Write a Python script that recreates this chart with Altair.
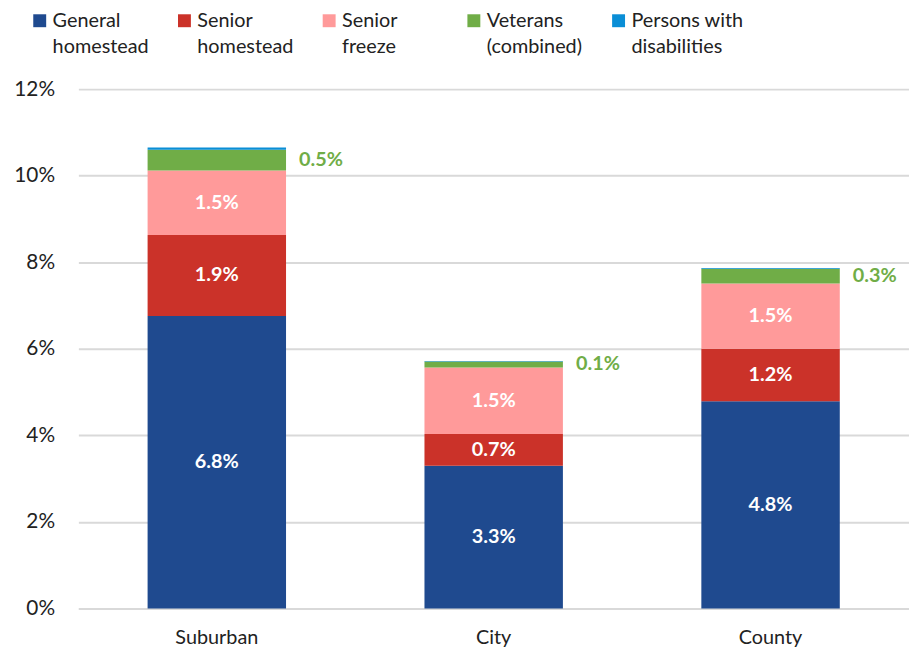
import altair as alt
import pandas as pd

regions = ["Suburban", "City", "County"]
series = ["General homestead", "Senior homestead", "Senior freeze",
          "Veterans (combined)", "Persons with disabilities"]
general = [6.76, 3.30, 4.79]
senior_home = [1.87, 0.73, 1.21]
senior_freeze = [1.49, 1.54, 1.51]
veterans = [0.48, 0.14, 0.34]
disabilities = [0.05, 0.01, 0.02]
colors = ["#1f4a8f", "#cb3229", "#ff9a9a", "#70ad47", "#0a8ed6"]
y_ticks = [0, 2, 4, 6, 8, 10, 12]

rows = []
for i, r in enumerate(regions):
    for j, (s, vals) in enumerate(zip(series, [general, senior_home, senior_freeze, veterans, disabilities])):
        rows.append({"region": r, "series": s, "value": vals[i], "order": j})
df = pd.DataFrame(rows)

FONT = "Lato"

base = alt.Chart(df).transform_stack(
    stack="value", groupby=["region"], as_=["y0", "y1"],
    sort=[alt.SortField("order", order="ascending")]
).transform_calculate(
    mid="(datum.y0 + datum.y1) / 2",
    label="format(datum.value, '.1f') + '%'"
)

xenc = alt.X("region:N", sort=regions, title=None,
             scale=alt.Scale(paddingInner=0.5, paddingOuter=0.25),
             axis=alt.Axis(labelAngle=0, labelFontSize=20, labelFont=FONT,
                           labelColor="#222222", ticks=False, labelPadding=19,
                           labelLineHeight=18,
                           domainColor="#d9d9d9", domainWidth=2))

bars = base.mark_bar().encode(
    x=xenc,
    y=alt.Y("y0:Q", title=None,
            scale=alt.Scale(domain=[0, 12]),
            axis=alt.Axis(values=y_ticks, labelExpr="datum.value + '%'",
                          labelFontSize=21, labelFont=FONT, labelColor="#222222",
                          labelLineHeight=20,
                          ticks=False, domain=False, labelPadding=24,
                          gridColor="#d9d9d9", gridWidth=2)),
    y2="y1:Q",
    color=alt.Color("series:N", sort=series,
                    scale=alt.Scale(domain=series, range=colors),
                    legend=alt.Legend(
                        title=None, orient="none", legendX=-49, legendY=-79,
                        direction="horizontal", columns=5, gridAlign="all",
                        symbolType="square", symbolSize=170, symbolStrokeWidth=0,
                        labelFontSize=20, labelFont=FONT, labelColor="#222222",
                        labelLimit=200, columnPadding=9, symbolOffset=0,
                        labelOffset=3,
                        labelExpr="split({'General homestead':'General|homestead','Senior homestead':'Senior|homestead','Senior freeze':'Senior|freeze','Veterans (combined)':'Veterans|(combined)','Persons with disabilities':'Persons with|disabilities'}[datum.label], '|')")),
)

inside = base.transform_filter(
    "datum.order <= 2"
).mark_text(color="white", fontWeight="bold", fontSize=20, font=FONT).encode(
    x=alt.X("region:N", sort=regions),
    y=alt.Y("mid:Q"),
    text="label:N",
)

outside = base.transform_filter(
    "datum.order == 3"
).mark_text(color="#70ad47", fontWeight="bold", fontSize=20, font=FONT,
            align="left", dx=83).encode(
    x=alt.X("region:N", sort=regions),
    y=alt.Y("mid:Q"),
    text="label:N",
)

chart = alt.layer(bars, inside, outside).properties(
    width=838, height=524,
    padding={"left": 5, "top": 0, "right": 0, "bottom": 0},
).configure(
    style={"guide-label": {"lineHeight": 27}}
).configure_view(stroke=None).configure_legend(labelFont=FONT)

chart.save("out.html", embed_options={"renderer": "svg", "actions": False})
